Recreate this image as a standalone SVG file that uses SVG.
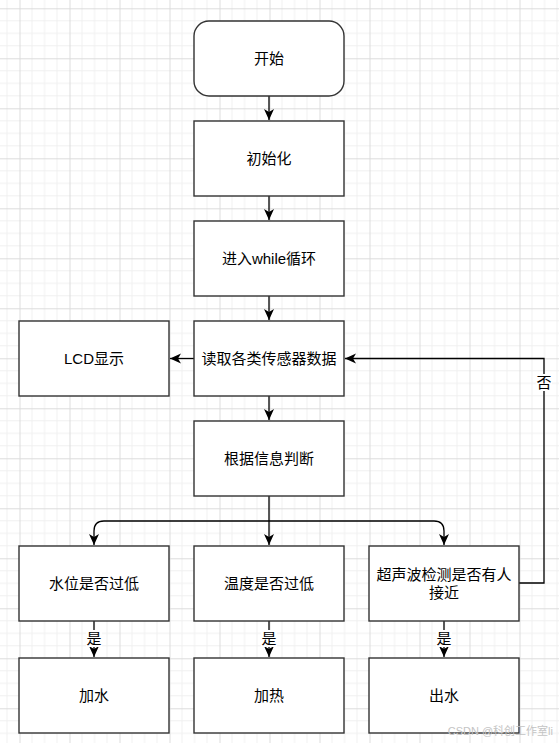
<svg xmlns="http://www.w3.org/2000/svg" width="559" height="743" viewBox="0 0 559 743">
<style>
.box{fill:#ffffff;stroke:#333333;stroke-width:1.4}
.lbl{font-family:"Liberation Sans","Noto Sans CJK SC",sans-serif;font-size:15px;fill:#000000;text-anchor:middle}
.edge{fill:none;stroke:#000000;stroke-width:1.3}
.tag{fill:#ffffff}
.wm{font-family:"Liberation Sans","Noto Sans CJK SC",sans-serif;font-size:11px;fill:#c4c4c4;text-anchor:end}
</style>
<defs>
<pattern id="grid" x="19.5" y="8.3" width="50" height="50" patternUnits="userSpaceOnUse">
<path d="M12.5 0V50M25 0V50M37.5 0V50M0 12.5H50M0 25H50M0 37.5H50" stroke="#f0f0f0" stroke-width="1" fill="none"/>
<path d="M0.5 0V50M0 0.5H50" stroke="#dcdcdc" stroke-width="1" fill="none"/>
</pattern>
<marker id="arr" viewBox="0 0 11 11" refX="11" refY="5.5" markerWidth="11" markerHeight="11" markerUnits="userSpaceOnUse" orient="auto">
<path d="M0,0.5 L11,5.5 L0,10.5 L3,5.5 Z" fill="#000000"/>
</marker>
</defs>
<rect x="0" y="0" width="559" height="743" fill="#ffffff"/>
<rect x="0" y="0" width="559" height="743" fill="url(#grid)"/>

<g id="connectors">
<path class="edge" d="M269 96V120" marker-end="url(#arr)"/>
<path class="edge" d="M269 196V220" marker-end="url(#arr)"/>
<path class="edge" d="M269 296V320" marker-end="url(#arr)"/>
<path class="edge" d="M269 396V420" marker-end="url(#arr)"/>
<path class="edge" d="M194 358.5H170" marker-end="url(#arr)"/>
<path class="edge" d="M269 496V545" marker-end="url(#arr)"/>
<path class="edge" d="M269 521H104Q94 521 94 531V545" marker-end="url(#arr)"/>
<path class="edge" d="M269 521H434Q444 521 444 531V545" marker-end="url(#arr)"/>
<path class="edge" d="M94 621V657" marker-end="url(#arr)"/>
<path class="edge" d="M269 621V657" marker-end="url(#arr)"/>
<path class="edge" d="M444 621V657" marker-end="url(#arr)"/>
<path class="edge" d="M519 583H544V358.5H345" marker-end="url(#arr)"/>
<rect class="tag" x="86" y="630" width="16" height="17"/>
<text class="lbl" x="94" y="644">是</text>
<rect class="tag" x="261" y="630" width="16" height="17"/>
<text class="lbl" x="269" y="644">是</text>
<rect class="tag" x="436" y="630" width="16" height="17"/>
<text class="lbl" x="444" y="644">是</text>
<rect class="tag" x="536" y="374" width="16" height="17"/>
<text class="lbl" x="544" y="388">否</text>
</g>

<g id="start"><rect class="box" x="194" y="21" width="150" height="75" rx="15" ry="15"/><text class="lbl" x="269" y="63.5">开始</text></g>
<g id="init"><rect class="box" x="194" y="121" width="150" height="75"/><text class="lbl" x="269" y="163.5">初始化</text></g>
<g id="loop"><rect class="box" x="194" y="221" width="150" height="75"/><text class="lbl" x="269" y="263.5">进入while循环</text></g>
<g id="read"><rect class="box" x="194" y="321" width="150" height="75"/><text class="lbl" x="269" y="363.5">读取各类传感器数据</text></g>
<g id="lcd"><rect class="box" x="19" y="321" width="150" height="75"/><text class="lbl" x="94" y="363.5">LCD显示</text></g>
<g id="judge"><rect class="box" x="194" y="421" width="150" height="75"/><text class="lbl" x="269" y="463.5">根据信息判断</text></g>
<g id="water"><rect class="box" x="19" y="546" width="150" height="75"/><text class="lbl" x="94" y="588.5">水位是否过低</text></g>
<g id="temp"><rect class="box" x="194" y="546" width="150" height="75"/><text class="lbl" x="269" y="588.5">温度是否过低</text></g>
<g id="ultra"><rect class="box" x="369" y="546" width="150" height="75"/><text class="lbl" x="444" y="580">超声波检测是否有人</text><text class="lbl" x="444" y="598">接近</text></g>
<g id="addwater"><rect class="box" x="19" y="658" width="150" height="75"/><text class="lbl" x="94" y="700.5">加水</text></g>
<g id="heat"><rect class="box" x="194" y="658" width="150" height="75"/><text class="lbl" x="269" y="700.5">加热</text></g>
<g id="out"><rect class="box" x="369" y="658" width="150" height="75"/><text class="lbl" x="444" y="700.5">出水</text></g>

<text class="wm" x="553" y="735">CSDN @科创工作室li</text>
</svg>
